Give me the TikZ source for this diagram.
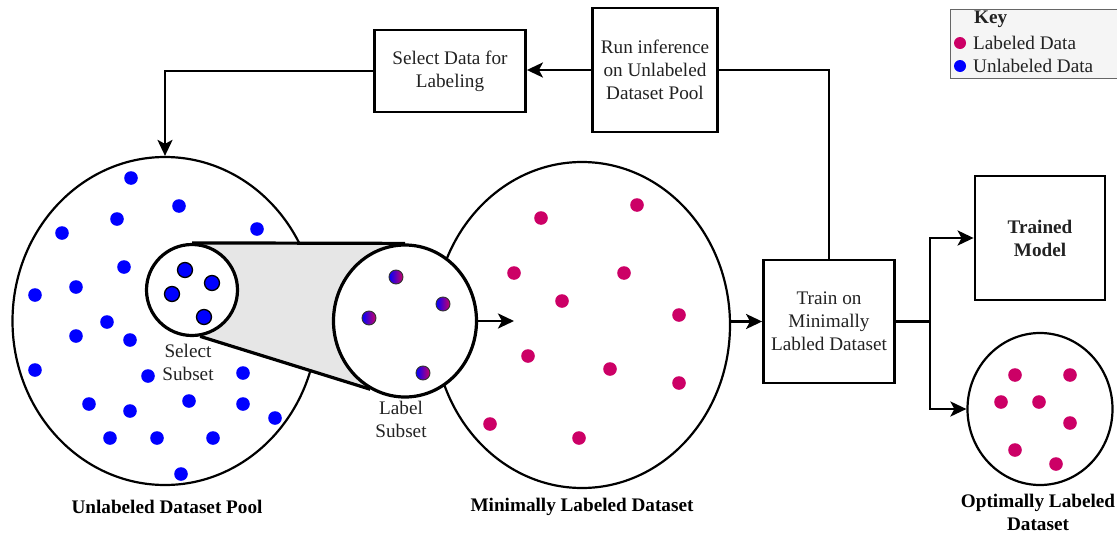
\documentclass[tikz,border=0pt]{standalone}
\usepackage{fontspec}
\setmainfont{Liberation Serif}
\usetikzlibrary{shapes.geometric,arrows.meta}
\definecolor{pinkdot}{HTML}{CC0066}
\definecolor{bluedot}{HTML}{0000FF}
\definecolor{funnelgray}{HTML}{E6E6E6}
\definecolor{keyfill}{HTML}{F5F5F5}
\definecolor{keyline}{HTML}{666666}
\definecolor{txt}{HTML}{222222}
\pgfdeclarelayer{bglayer}
\pgfdeclarelayer{funlayer}
\pgfsetlayers{bglayer,funlayer,main}
\begin{document}
\begin{tikzpicture}[x=1pt,y=-1pt,
  font=\fontsize{19.2}{23}\selectfont,
  every node/.style={text=txt},
  stepbox/.style={draw=black, line width=2.8pt, inner sep=0pt, align=center},
  conn/.style={line width=2.8pt, draw=black},
  arr/.style={conn, -{Stealth[length=16pt,width=15pt,inset=4pt]}},
  bigell/.style={ellipse, draw=black, line width=2.2pt, inner sep=0pt},
  zoomcirc/.style={ellipse, draw=black, line width=3.2pt, fill=white, inner sep=0pt},
  caption/.style={font=\fontsize{19.2}{23}\selectfont\bfseries, align=center, text=black},
  udot/.style={fill=bluedot},
  ldot/.style={fill=pinkdot}
]
\useasboundingbox (0,0) rectangle (1117,533);

% big datasets
\begin{pgfonlayer}{bglayer}
\node[bigell, minimum width=305pt, minimum height=328pt] (pool) at (165,321) {};
\node[bigell, minimum width=296pt, minimum height=326pt] (mid) at (582,325) {};
\end{pgfonlayer}

% zoom circles
\node[zoomcirc, minimum width=91pt, minimum height=91pt] (sel) at (192,290) {};
\node[zoomcirc, minimum width=143pt, minimum height=152pt] (lab) at (405,321) {};

% funnel
\begin{pgfonlayer}{funlayer}
\fill[funnelgray] (sel.north) -- (lab.north) -- (lab.243) -- (sel.280) -- cycle;
\draw[line width=3.2pt] (sel.north) -- (lab.north);
\draw[line width=3.2pt] (sel.280) -- (lab.243);
\end{pgfonlayer}

% optimal dataset
\node[bigell, minimum width=145pt, minimum height=152pt] (opt) at (1040,409) {};

% boxes
\node[stepbox, minimum width=125pt, minimum height=124pt] (run) at (655,70) {Run inference\\on Unlabeled\\Dataset Pool};
\node[stepbox, minimum width=151pt, minimum height=82pt] (seld) at (450,71) {Select Data for\\Labeling};
\node[stepbox, minimum width=131pt, minimum height=123pt] (train) at (829,321.5) {Train on\\Minimally\\Labled Dataset};
\node[stepbox, minimum width=130pt, minimum height=124pt, font=\fontsize{19.2}{23}\selectfont\bfseries] (model) at (1040,238) {Trained\\Model};

% connectors
\draw[arr] (run.west) -- (seld.east |- run.west);
\draw[arr] (seld.west) -| (pool.north);
\draw[conn] (run.east) -| (train.north);
\coordinate (labarr) at (514,321);
\draw[arr] (lab.east) -- (labarr);
\draw[arr] (mid.east |- train.west) -- (train.west);
\coordinate (br) at (930,321.5);
\draw[conn] (train.east) -- (br);
\draw[arr] (br) |- (model.west);
\draw[arr] (br) |- (opt.west);

% unlabeled dots
\foreach \p in {(131,178),(179,206),(117,219),(62,233),(257,229),(124,267),(76,287),(35,295),
  (107,322),(76,336),(130,340),(35,370),(148,376),(243,373),(89,404),(130,411),(189,401),
  (243,404),(275,418),(110,438),(157,438),(213,438),(181,474)}
  \fill[udot] \p circle (6.8pt);

% selected subset dots
\foreach \p in {(185,270),(212,283),(172,294),(204,317)}
  \filldraw[fill=bluedot, draw=black, line width=1.3pt] \p circle (7.5pt);

% label subset dots (being labeled)
\foreach \p in {(396,277),(443,304),(369,318),(423,373)}
  \shadedraw[left color=bluedot, right color=pinkdot, draw=black!80, line width=0.9pt] \p circle (7pt);

% minimally labeled dots
\foreach \p in {(541,218),(637,205),(514,273),(624,273),(562,301),(679,315),(528,356),
  (610,369),(679,383),(490,424),(579,438)}
  \fill[ldot] \p circle (6.8pt);

% optimal dots
\foreach \p in {(1015,375),(1070,375),(1001,402),(1039,402),(1070,423),(1015,450),(1056,464)}
  \fill[ldot] \p circle (6.8pt);

% small labels
\node[align=center] (sellab) at (188,362) {Select\\Subset};
\node[align=center] (lablab) at (401,419) {Label\\Subset};

% captions
\node[caption] (poolcap) at (167,507) {Unlabeled Dataset Pool};
\node[caption] (midcap) at (582,507) {Minimally Labeled Dataset};
\node[caption] (optcap) at (1038,512) {Optimally Labeled\\Dataset};

% key
\node[draw=keyline, fill=keyfill, line width=1pt, minimum width=185pt, minimum height=69pt, anchor=north west, inner sep=0pt] (key) at (950,9) {};
\node[anchor=west, inner sep=0pt, font=\fontsize{19.2}{23}\selectfont\bfseries] (keyt) at (974,19) {Key};
\fill[ldot] (960,43) circle (6pt) coordinate (kdl);
\node[anchor=west, inner sep=0pt] (keyl) at (973,43) {Labeled Data};
\fill[udot] (960,66) circle (6pt) coordinate (kdu);
\node[anchor=west, inner sep=0pt] (keyu) at (973,66) {Unlabeled Data};
\end{tikzpicture}
\end{document}
